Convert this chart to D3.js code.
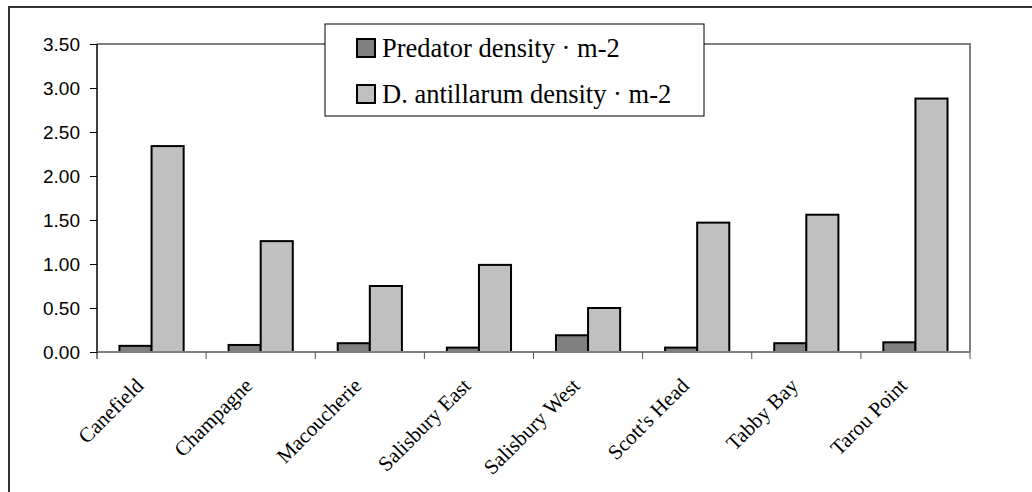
<!DOCTYPE html>
<html>
<head>
<meta charset="utf-8">
<script src="https://cdn.jsdelivr.net/npm/d3@7"></script>
<style>
  body { margin: 0; background: #fff; }
  svg { display: block; }
</style>
</head>
<body>
<svg id="chart" width="1032" height="492"></svg>
<script>
/************************************ Data *******************************/
var sites = ["Canefield", "Champagne", "Macoucherie", "Salisbury East",
             "Salisbury West", "Scott's Head", "Tabby Bay", "Tarou Point"];
var predatorDensity = [0.07, 0.08, 0.10, 0.05, 0.19, 0.05, 0.10, 0.11];
var antillarumDensity = [2.34, 1.26, 0.75, 0.99, 0.50, 1.47, 1.56, 2.88];
var yTicks = [0, 0.5, 1, 1.5, 2, 2.5, 3, 3.5];
var seriesNames = ["Predator density \u00b7 m-2", "D. antillarum density \u00b7 m-2"];
var seriesColors = ["#808080", "#c0c0c0"];

/************************************ Layout *******************************/
var svg = d3.select("#chart");
var plot = {left: 97, right: 970, top: 44, bottom: 352};

// outer chart frame (runs off the right and bottom of the picture)
svg.append("path")
    .attr("d", "M9,1000 L9,7 L1100,7")
    .attr("fill", "none")
    .attr("stroke", "#333")
    .attr("stroke-width", 2);

var x0 = d3.scaleBand().domain(sites).range([plot.left, plot.right]);
// gap width 140% of one bar: 2 bars + 1.4 bar = band
var x1 = d3.scaleBand().domain([0, 1])
    .range([0, x0.bandwidth()]).paddingOuter(0.7).paddingInner(0);
var y = d3.scaleLinear().domain([0, 3.5]).range([plot.bottom, plot.top]);

// plot area border: top and right in grey
svg.append("path")
    .attr("d", "M" + plot.left + "," + plot.top + " L" + plot.right + "," + plot.top +
               " L" + plot.right + "," + plot.bottom)
    .attr("fill", "none")
    .attr("stroke", "#808080")
    .attr("stroke-width", 2);

/************************************ Bars *******************************/
var rows = sites.map(function(s, i) {
  return {site: s, values: [predatorDensity[i], antillarumDensity[i]]};
});

var groups = svg.selectAll("g.site").data(rows).enter()
    .append("g").attr("class", "site")
    .attr("transform", function(d) { return "translate(" + x0(d.site) + ",0)"; });

groups.selectAll("rect").data(function(d) { return d.values; }).enter()
    .append("rect")
    .attr("x", function(d, i) { return x1(i); })
    .attr("y", function(d) { return y(d); })
    .attr("width", x1.bandwidth())
    .attr("height", function(d) { return y(0) - y(d); })
    .attr("fill", function(d, i) { return seriesColors[i]; })
    .attr("stroke", "#000")
    .attr("stroke-width", 2);

/************************************ Axes *******************************/
var yAxis = svg.append("g")
    .attr("transform", "translate(" + plot.left + ",0)")
    .call(d3.axisLeft(y).tickValues(yTicks).tickSize(7).tickPadding(10)
            .tickFormat(d3.format(".2f")));
yAxis.select(".domain").attr("stroke", "#000").attr("stroke-width", 1.5)
    .attr("d", "M0," + plot.top + "V" + plot.bottom);
yAxis.selectAll(".tick line").attr("stroke", "#000");
yAxis.selectAll("text")
    .attr("font-family", "Arial, 'Liberation Sans', sans-serif")
    .attr("font-size", "19px")
    .attr("fill", "#000");

// category boundaries get the tick marks
var bounds = sites.map(function(s) { return x0(s); }).concat([plot.right]);
svg.append("line")
    .attr("x1", plot.left).attr("x2", plot.right)
    .attr("y1", plot.bottom).attr("y2", plot.bottom)
    .attr("stroke", "#808080").attr("stroke-width", 2);
svg.selectAll("line.xtick").data(bounds).enter()
    .append("line").attr("class", "xtick")
    .attr("x1", function(d) { return d; }).attr("x2", function(d) { return d; })
    .attr("y1", plot.bottom).attr("y2", plot.bottom + 7)
    .attr("stroke", function(d, i) { return i == 0 ? "#000" : "#555"; })
    .attr("stroke-width", 1);

svg.selectAll("text.xlabel").data(sites).enter()
    .append("text").attr("class", "xlabel")
    .attr("text-anchor", "end")
    .attr("font-family", "'Times New Roman', 'Liberation Serif', serif")
    .attr("font-size", "21px")
    .attr("transform", function(d) {
      var cx = x0(d) + x0.bandwidth() / 2 - 7;
      return "translate(" + cx + ",387) rotate(-45)";
    })
    .text(function(d) { return d; });

/************************************ Legend *******************************/
var legend = svg.append("g");
legend.append("rect")
    .attr("x", 325).attr("y", 24).attr("width", 379).attr("height", 92)
    .attr("fill", "#fff").attr("stroke", "#000").attr("stroke-width", 1);

var items = legend.selectAll("g.item").data(seriesNames).enter()
    .append("g").attr("class", "item")
    .attr("transform", function(d, i) { return "translate(357," + (39 + i * 46) + ")"; });
items.append("rect")
    .attr("width", 18).attr("height", 18)
    .attr("fill", function(d, i) { return seriesColors[i]; })
    .attr("stroke", "#000").attr("stroke-width", 2);
items.append("text")
    .attr("x", 25).attr("y", 18)
    .attr("font-family", "'Times New Roman', 'Liberation Serif', serif")
    .attr("font-size", "26.5px")
    .text(function(d) { return d; });
</script>
</body>
</html>
